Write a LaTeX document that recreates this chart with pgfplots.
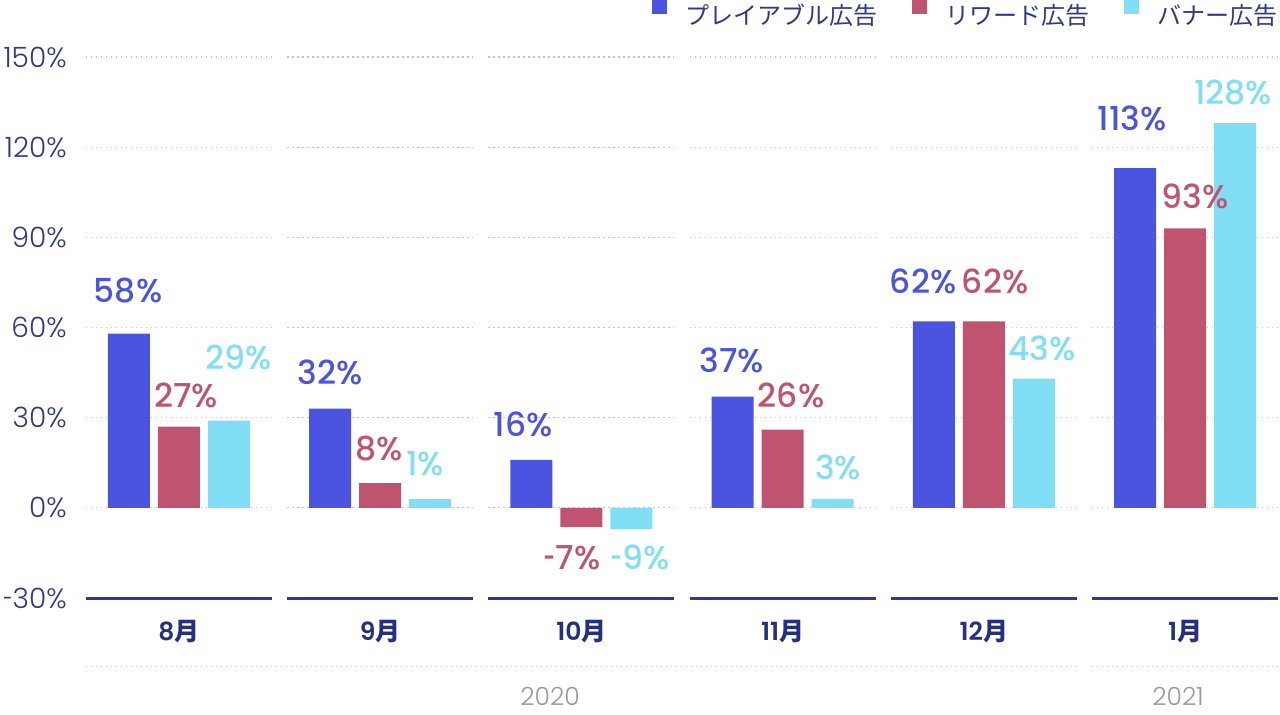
\documentclass[border=0pt]{standalone}
\usepackage{fontspec}
\usepackage{graphicx}
\setmainfont{Poppins}
\newfontfamily\cjk{Noto Sans CJK JP}
\newfontfamily\popm{Poppins Medium}
\newfontfamily\popl{Poppins Light}
\newfontfamily\popsb{Poppins SemiBold}
\newcommand{\hy}{\scalebox{0.62}[1]{-}}
\usepackage{pgfplots}
\pgfplotsset{compat=1.18}
\definecolor{cblue}{HTML}{4A54E1}
\definecolor{cred}{HTML}{C05470}
\definecolor{ccyan}{HTML}{80DEF5}
\definecolor{navy}{HTML}{2E3A87}
\definecolor{navyline}{HTML}{2D3A8F}
\definecolor{navytxt}{HTML}{25307F}
\definecolor{gridc}{HTML}{C4C4C4}
\definecolor{yearc}{HTML}{999999}
\begin{document}
\begin{tikzpicture}[x=1pt,y=1pt]
\useasboundingbox (0,0) rectangle (640,357);
\begin{axis}[
  at={(43pt,58pt)}, anchor=south west,
  scale only axis, width=596pt, height=270.5pt,
  xmin=-0.462, xmax=5.462, ymin=-30, ymax=150,
  axis line style={draw=none},
  major tick length=0pt,
  clip=false,
  xtick={0,1,2,3,4,5},
  xticklabels={{8{\cjk\bfseries 月}},{9{\cjk\bfseries 月}},{10{\cjk\bfseries 月}},{11{\cjk\bfseries 月}},{12{\cjk\bfseries 月}},{1{\cjk\bfseries 月}}},
  xticklabel style={font=\popsb\fontsize{12.5}{13}\selectfont, text=navytxt, anchor=center, yshift=-17pt, inner sep=0pt},
  ytick={-30,0,30,60,90,120,150},
  yticklabels={\hy30\%,0\%,30\%,60\%,90\%,120\%,150\%},
  yticklabel style={font=\popl\fontsize{14}{15}\selectfont, text=navy, anchor=east, inner sep=0pt, xshift=-9.5pt},
  legend columns=3,
  legend style={draw=none, fill=none, at={(1.0,1.0813)}, anchor=east, inner sep=0pt,
    nodes={inner sep=0pt, text=navy, font=\cjk\fontsize{12}{13}\selectfont},
    /tikz/every odd column/.append style={column sep=9.5pt},
    /tikz/every even column/.append style={column sep=17pt}},
  legend image code/.code={\fill[#1] (0pt,0.9pt) rectangle (7.5pt,8.4pt);},
]
% grid segments
\pgfplotsinvokeforeach{0,30,60,90,120,150}{
  \draw[gridc, line width=0.6pt, dash pattern=on 0.7pt off 1.8pt]
    (axis cs:-0.462,#1) -- (axis cs:0.462,#1)
    (axis cs:0.538,#1) -- (axis cs:1.462,#1)
    (axis cs:1.538,#1) -- (axis cs:2.462,#1)
    (axis cs:2.538,#1) -- (axis cs:3.462,#1)
    (axis cs:3.538,#1) -- (axis cs:4.462,#1)
    (axis cs:4.538,#1) -- (axis cs:5.462,#1);
}
\pgfplotsinvokeforeach{0,1,2,3,4,5}{
  \draw[navyline, line width=1.5pt] (axis cs:#1-0.462,-30) -- (axis cs:#1+0.462,-30);
}
\draw[gridc, line width=0.6pt, dash pattern=on 0.7pt off 1.8pt] (axis cs:-0.462,-52.9) -- (axis cs:4.462,-52.9);
\draw[gridc, line width=0.6pt, dash pattern=on 0.7pt off 1.8pt] (axis cs:4.538,-52.9) -- (axis cs:5.462,-52.9);

\addplot[ybar, bar width=21pt, bar shift=-25pt, fill=cblue, draw=none] coordinates {(0,58) (1,33) (2,16) (3,37) (4,62) (5,113)};
\addlegendentry{プレイアブル広告}
\addplot[ybar, bar width=21pt, bar shift=0pt, fill=cred, draw=none] coordinates {(0,27) (1,8.2) (2,-6.3) (3,26) (4,62) (5,93)};
\addlegendentry{リワード広告}
\addplot[ybar, bar width=21pt, bar shift=25pt, fill=ccyan, draw=none] coordinates {(0,29) (1,2.9) (2,-7) (3,3) (4,43) (5,128)};
\addlegendentry{バナー広告}

% data labels
\tikzset{lab/.style={font=\popm\fontsize{16.5}{17}\selectfont, inner sep=0pt, anchor=center}}
\node[lab, text=cblue] at (axis cs:-0.253,72.2) {58\%};
\node[lab, text=cred]  at (axis cs:0.035,37.3) {27\%};
\node[lab, text=ccyan] at (axis cs:0.298,49.9) {29\%};
\node[lab, text=cblue] at (axis cs:0.750,45.2) {32\%};
\node[lab, text=cred]  at (axis cs:0.994,19.6) {8\%};
\node[lab, text=ccyan] at (axis cs:1.223,14.6) {1\%};
\node[lab, text=cblue] at (axis cs:1.710,27.9) {16\%};
\node[lab, text=cred]  at (axis cs:1.953,-16.6) {\hy7\%};
\node[lab, text=ccyan] at (axis cs:2.291,-16.6) {\hy9\%};
\node[lab, text=cblue] at (axis cs:2.748,49.2) {37\%};
\node[lab, text=cred]  at (axis cs:3.042,37.3) {26\%};
\node[lab, text=ccyan] at (axis cs:3.275,13.6) {3\%};
\node[lab, text=cblue] at (axis cs:3.698,75.2) {62\%};
\node[lab, text=cred]  at (axis cs:4.056,75.2) {62\%};
\node[lab, text=ccyan] at (axis cs:4.289,52.9) {43\%};
\node[lab, text=cblue] at (axis cs:4.737,129.7) {113\%};
\node[lab, text=cred]  at (axis cs:5.050,103.5) {93\%};
\node[lab, text=ccyan] at (axis cs:5.239,138.1) {128\%};
% years
\node[font=\popl\fontsize{12.5}{13}\selectfont, text=yearc, inner sep=0pt] at (axis cs:1.844,-62.8) {2020};
\node[font=\popl\fontsize{12.5}{13}\selectfont, text=yearc, inner sep=0pt] at (axis cs:4.965,-62.8) {2021};
\end{axis}
\end{tikzpicture}
\end{document}
